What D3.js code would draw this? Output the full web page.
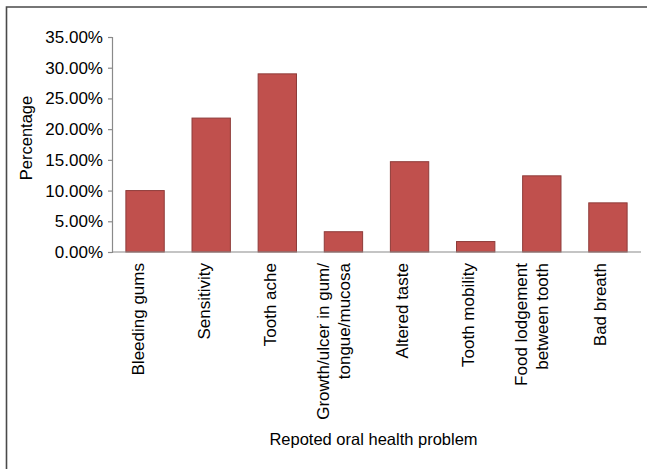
<!DOCTYPE html>
<html>
<head>
<meta charset="utf-8">
<script src="https://cdn.jsdelivr.net/npm/d3@7"></script>
<style>
  html, body { margin: 0; padding: 0; background: #fff; }
  svg { display: block; }
  text { font-family: "Liberation Sans", Arial, sans-serif; fill: #000; }
</style>
</head>
<body>
<svg id="chart" width="647" height="469"></svg>
<script>
// Reported oral health problems (share of respondents, %)
const categories = [
  ["Bleeding gums"],
  ["Sensitivity"],
  ["Tooth ache"],
  ["Growth/ulcer in gum/", "tongue/mucosa"],
  ["Altered taste"],
  ["Tooth mobility"],
  ["Food lodgement", "between tooth"],
  ["Bad breath"]
];
const values = [10.0, 21.8, 29.0, 3.3, 14.7, 1.7, 12.4, 8.0];
const yTicks = [0, 5, 10, 15, 20, 25, 30, 35];

const svg = d3.select("#chart");

// outer frame (top and left edges visible)
svg.append("path")
  .attr("d", "M6.5,469 L6.5,7 L647,7")
  .attr("fill", "none")
  .attr("stroke", "#4a4a4a")
  .attr("stroke-width", 1.6);

const plotLeft = 112, plotRight = 641, plotTop = 37, plotBottom = 252;

const x = d3.scaleBand()
  .domain(d3.range(categories.length))
  .range([plotLeft, plotRight])
  .paddingInner(0.42)
  .paddingOuter(0.21);

const y = d3.scaleLinear().domain([0, 35]).range([plotBottom, plotTop]);

// y axis
const yAxis = svg.append("g")
  .attr("transform", `translate(${plotLeft},0)`)
  .call(d3.axisLeft(y).tickValues(yTicks).tickSize(4).tickPadding(5)
    .tickFormat(d => d.toFixed(2) + "%"));
yAxis.selectAll("line, path").attr("stroke", "#8a8a8a").attr("stroke-width", 1.2);
yAxis.selectAll("text").attr("font-size", 17).attr("fill", "#000")
  .style("font-family", '"Liberation Sans", Arial, sans-serif');

// bars
svg.append("g").selectAll("rect")
  .data(values)
  .join("rect")
  .attr("x", (d, i) => x(i))
  .attr("y", d => y(d))
  .attr("width", x.bandwidth())
  .attr("height", d => y(0) - y(d))
  .attr("fill", "#c0504d")
  .attr("stroke", "#8e3b39")
  .attr("stroke-width", 1);

// x axis baseline
svg.append("line")
  .attr("x1", plotLeft).attr("x2", plotRight)
  .attr("y1", y(0)).attr("y2", y(0))
  .attr("stroke", "#8a8a8a").attr("stroke-width", 1.2);

// rotated category labels
const lineGap = 21;
categories.forEach((lines, i) => {
  const cx = x(i) + x.bandwidth() / 2;
  const n = lines.length;
  lines.forEach((ln, j) => {
    const bx = n === 1 ? cx - 1.5 : cx - 4 + (j - (n - 1) / 2) * lineGap;
    svg.append("text")
      .attr("transform", `translate(${bx},263) rotate(-90)`)
      .attr("text-anchor", "end")
      .attr("font-size", 17)
      .text(ln);
  });
});

// axis titles
svg.append("text")
  .attr("x", (plotLeft + plotRight) / 2 - 3)
  .attr("y", 445)
  .attr("text-anchor", "middle")
  .attr("font-size", 16.5)
  .text("Repoted oral health problem");

svg.append("text")
  .attr("transform", "translate(32,138) rotate(-90)")
  .attr("text-anchor", "middle")
  .attr("font-size", 16.5)
  .text("Percentage");
</script>
</body>
</html>
